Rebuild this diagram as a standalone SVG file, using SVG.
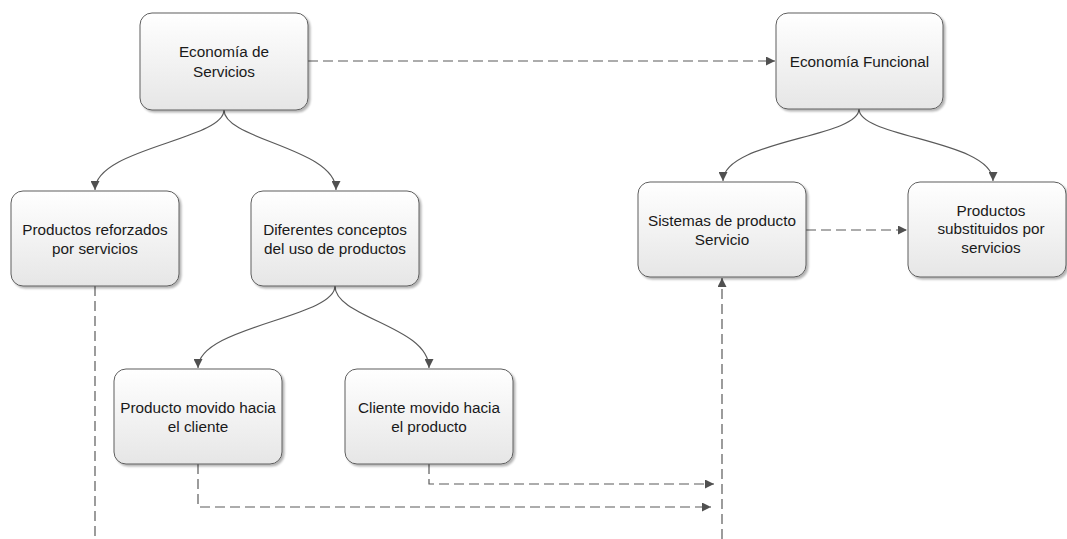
<svg xmlns="http://www.w3.org/2000/svg" width="1067" height="539" viewBox="0 0 1067 539">
  <defs>
    <linearGradient id="boxFill" x1="0" y1="0" x2="0" y2="1">
      <stop offset="0" stop-color="#ffffff"/>
      <stop offset="1" stop-color="#e6e6e6"/>
    </linearGradient>
    <filter id="shadow" x="-10%" y="-10%" width="130%" height="130%">
      <feGaussianBlur in="SourceAlpha" stdDeviation="1.2"/>
      <feOffset dx="1.5" dy="1.5" result="b"/>
      <feComponentTransfer><feFuncA type="linear" slope="0.3"/></feComponentTransfer>
      <feMerge><feMergeNode/><feMergeNode in="SourceGraphic"/></feMerge>
    </filter>
    <marker id="arrow" viewBox="0 0 10 10" refX="10" refY="5" markerWidth="9" markerHeight="9" markerUnits="userSpaceOnUse" orient="auto">
      <path d="M0,0 L10,5 L0,10 z" fill="#505050"/>
    </marker>
  </defs>
  <style>
    .box { fill: url(#boxFill); stroke: #5e5e5e; stroke-width: 1; filter: url(#shadow); }
    .lbl { font-family: "Liberation Sans", Arial, sans-serif; font-size: 15.3px; fill: #1a1a1a; text-anchor: middle; }
    .tree { fill: none; stroke: #5a5a5a; stroke-width: 1.15; marker-end: url(#arrow); }
    .dash { fill: none; stroke: #5a5a5a; stroke-width: 1.2; stroke-dasharray: 10 5; }
    .dash-arrow { marker-end: url(#arrow); }
  </style>

  <rect width="1067" height="539" fill="#ffffff"/>

  <!-- connectors -->
  <g id="connectors">
    <path class="tree" d="M224,110 C224,140 95,148 95,190"/>
    <path class="tree" d="M224,110 C224,140 336,148 336,190"/>
    <path class="tree" d="M859,109 C859,138 723,140 723,181"/>
    <path class="tree" d="M859,109 C859,138 993,140 993,181"/>
    <path class="tree" d="M335,286 C335,318 198,326 198,368"/>
    <path class="tree" d="M335,286 C335,318 429,326 429,368"/>

    <path class="dash dash-arrow" d="M308,61 L775,61"/>
    <path class="dash dash-arrow" d="M806,230 L907,230"/>
    <path class="dash" d="M95,286 L95,539"/>
    <path class="dash dash-arrow" d="M722,539 L722,278"/>
    <path class="dash dash-arrow" d="M429,464 L429,484 L714,484"/>
    <path class="dash dash-arrow" d="M198,464 L198,507 L711,507"/>
  </g>

  <!-- nodes -->
  <g id="economia-servicios">
    <rect class="box" x="140" y="13" width="168" height="97" rx="12"/>
    <text class="lbl" x="224" y="57">Economía de</text>
    <text class="lbl" x="224" y="76.5">Servicios</text>
  </g>
  <g id="economia-funcional">
    <rect class="box" x="776" y="13" width="167" height="96" rx="12"/>
    <text class="lbl" x="859.5" y="66.5">Economía Funcional</text>
  </g>
  <g id="productos-reforzados">
    <rect class="box" x="11" y="191" width="168" height="95" rx="12"/>
    <text class="lbl" x="95" y="235">Productos reforzados</text>
    <text class="lbl" x="95" y="254">por servicios</text>
  </g>
  <g id="diferentes-conceptos">
    <rect class="box" x="251" y="191" width="168" height="95" rx="12"/>
    <text class="lbl" x="335" y="235">Diferentes conceptos</text>
    <text class="lbl" x="335" y="254">del uso de productos</text>
  </g>
  <g id="sistemas-producto">
    <rect class="box" x="638" y="182" width="168" height="95" rx="12"/>
    <text class="lbl" x="722" y="226">Sistemas de producto</text>
    <text class="lbl" x="722" y="245">Servicio</text>
  </g>
  <g id="productos-substituidos">
    <rect class="box" x="908" y="182" width="158" height="95" rx="12"/>
    <text class="lbl" x="991" y="215.5">Productos</text>
    <text class="lbl" x="991" y="234">substituidos por</text>
    <text class="lbl" x="991" y="252.5">servicios</text>
  </g>
  <g id="producto-movido">
    <rect class="box" x="114" y="369" width="168" height="95" rx="12"/>
    <text class="lbl" x="198" y="413">Producto movido hacia</text>
    <text class="lbl" x="198" y="431.5">el cliente</text>
  </g>
  <g id="cliente-movido">
    <rect class="box" x="345" y="369" width="168" height="95" rx="12"/>
    <text class="lbl" x="429" y="413">Cliente movido hacia</text>
    <text class="lbl" x="429" y="431.5">el producto</text>
  </g>
</svg>
